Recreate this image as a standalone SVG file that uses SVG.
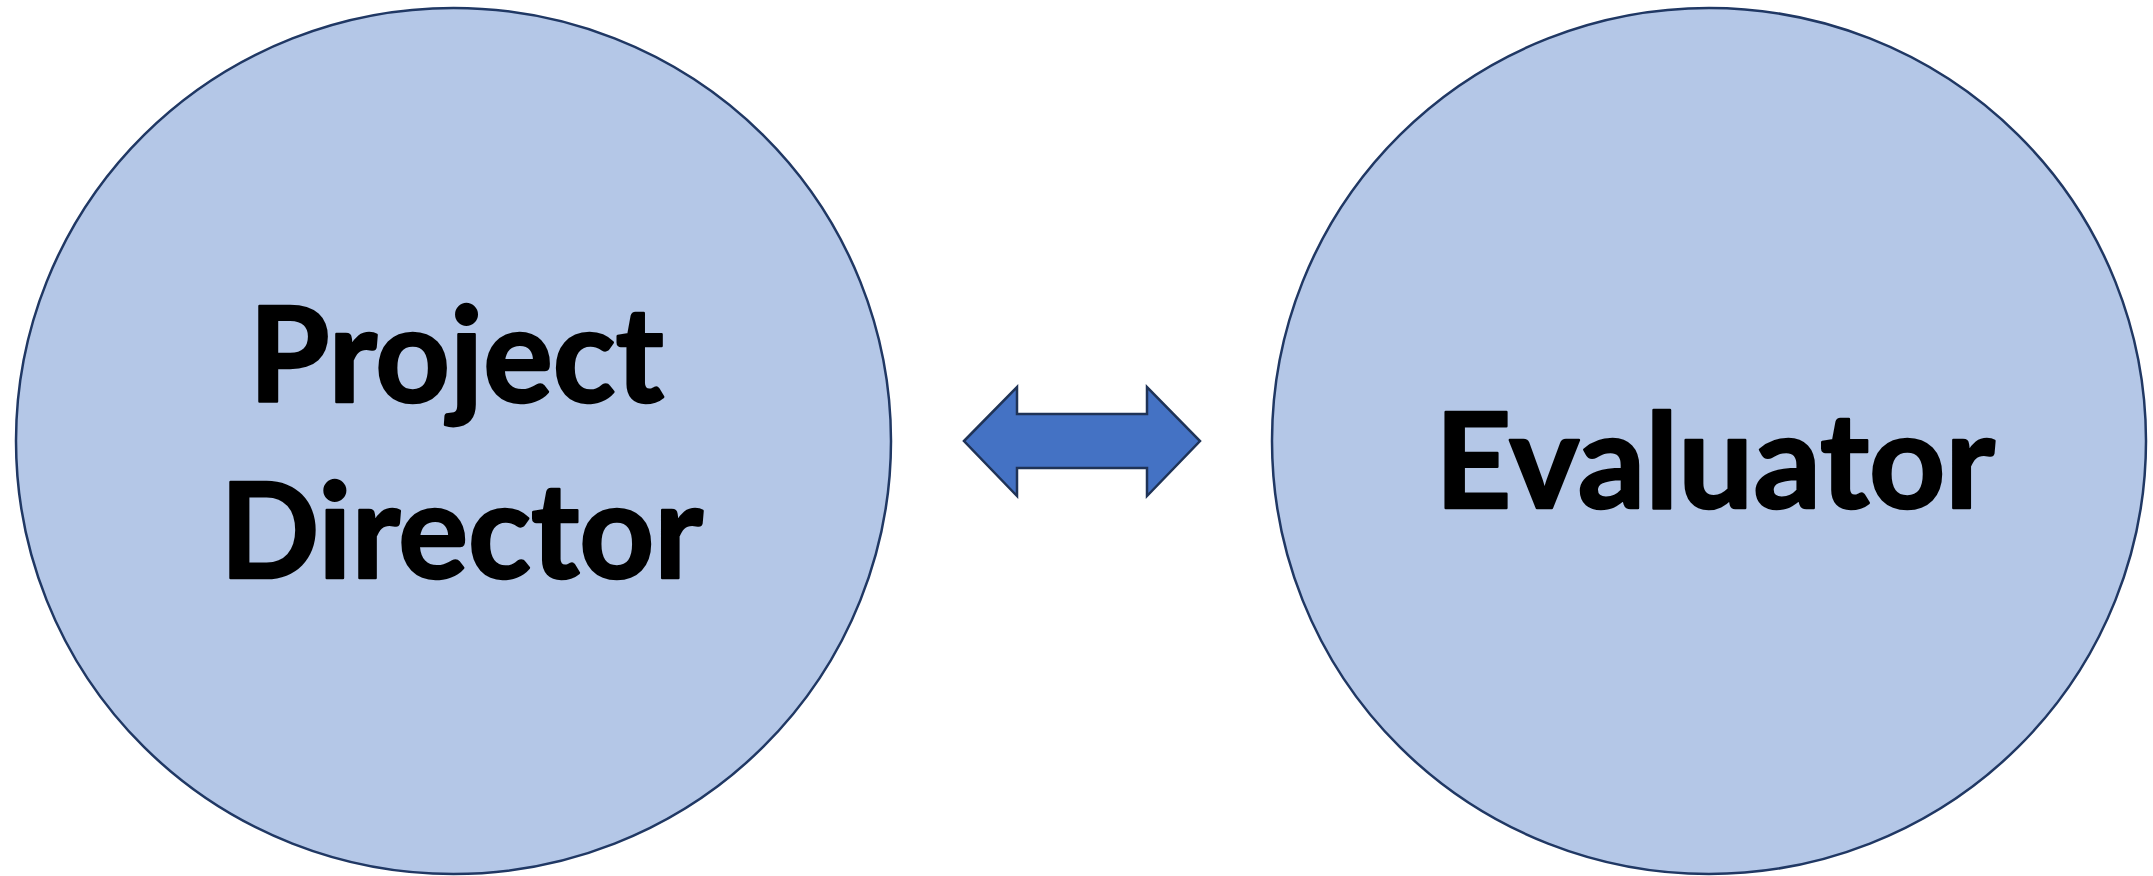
<svg xmlns="http://www.w3.org/2000/svg" width="2153" height="876" viewBox="0 0 2153 876">
  <style>
    .role { fill: #B4C7E7; stroke: #203864; stroke-width: 2.5; }
    .label { font-family: Lato, "Open Sans", "Liberation Sans", sans-serif; font-weight: 700; font-size: 132px; fill: #000000; stroke: #000000; stroke-width: 2.5; stroke-linejoin: round; }
    .link { fill: #4472C4; stroke: #1F3357; stroke-width: 2.5; stroke-linejoin: miter; }
  </style>
  <rect width="2153" height="876" fill="#FFFFFF"/>

  <g id="project-director">
    <ellipse class="role" cx="453.5" cy="441" rx="437.5" ry="433"/>
    <text class="label" x="249" y="402" textLength="415" lengthAdjust="spacingAndGlyphs">Project</text>
    <text class="label" x="220" y="578" textLength="483" lengthAdjust="spacingAndGlyphs">Director</text>
  </g>

  <g id="evaluator">
    <ellipse class="role" cx="1709" cy="441" rx="437" ry="433"/>
    <text class="label" x="1435" y="508" textLength="560" lengthAdjust="spacingAndGlyphs">Evaluator</text>
  </g>

  <g id="connectors">
    <!-- two-way block arrow between the roles -->
    <polygon class="link" points="964,441 1017,387 1017,414 1147,414 1147,387 1200,441 1147,496 1147,468 1017,468 1017,496"/>
  </g>
</svg>
